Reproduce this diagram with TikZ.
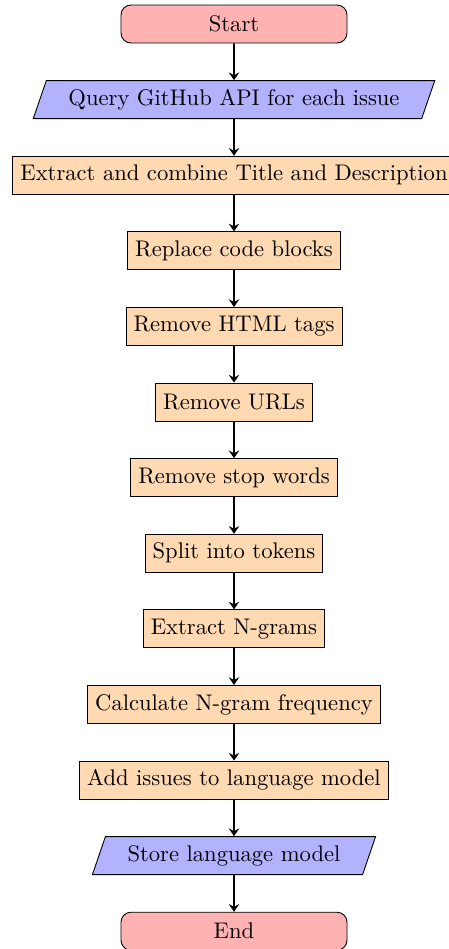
\documentclass[tikz,border=0pt]{standalone}
\usetikzlibrary{shapes.geometric,arrows.meta}
\begin{document}
\begin{tikzpicture}[x=0.44248pt,y=-0.44248pt,
  startstop/.style={rectangle, rounded corners=4.4pt, draw=black, fill=red!30, minimum width=100pt, minimum height=16.8pt, align=center},
  iobox/.style={trapezium, trapezium left angle=70, trapezium right angle=110, trapezium stretches=true, draw=black, fill=blue!30, minimum height=16.8pt, inner xsep=9.8pt, align=center},
  procbox/.style={rectangle, draw=black, fill=orange!30, minimum height=16.8pt, align=center},
  flowarrow/.style={thick,-{Stealth[length=3.4pt,width=4.6pt,inset=1.2pt]}}]
\useasboundingbox (0,0) rectangle (448,949);
\node[startstop] (start) at (234,24) {Start};
\node[iobox] (query) at (234,99.6) {Query GitHub API for each issue};
\node[procbox] (extract) at (234,175.2) {Extract and combine Title and Description};
\node[procbox] (replace) at (234,250.8) {Replace code blocks};
\node[procbox] (html) at (234,326.4) {Remove HTML tags};
\node[procbox] (urls) at (234,402) {Remove URLs};
\node[procbox] (stop) at (234,477.6) {Remove stop words};
\node[procbox] (split) at (234,553.2) {Split into tokens};
\node[procbox] (ngrams) at (234,628.8) {Extract N-grams};
\node[procbox] (freq) at (234,704.4) {Calculate N-gram frequency};
\node[procbox] (add) at (234,780) {Add issues to language model};
\node[iobox] (store) at (234,855.6) {Store language model};
\node[startstop] (end) at (234,931.2) {End};
\draw[flowarrow] (start) -- (query);
\draw[flowarrow] (query) -- (extract);
\draw[flowarrow] (extract) -- (replace);
\draw[flowarrow] (replace) -- (html);
\draw[flowarrow] (html) -- (urls);
\draw[flowarrow] (urls) -- (stop);
\draw[flowarrow] (stop) -- (split);
\draw[flowarrow] (split) -- (ngrams);
\draw[flowarrow] (ngrams) -- (freq);
\draw[flowarrow] (freq) -- (add);
\draw[flowarrow] (add) -- (store);
\draw[flowarrow] (store) -- (end);
\end{tikzpicture}
\end{document}
